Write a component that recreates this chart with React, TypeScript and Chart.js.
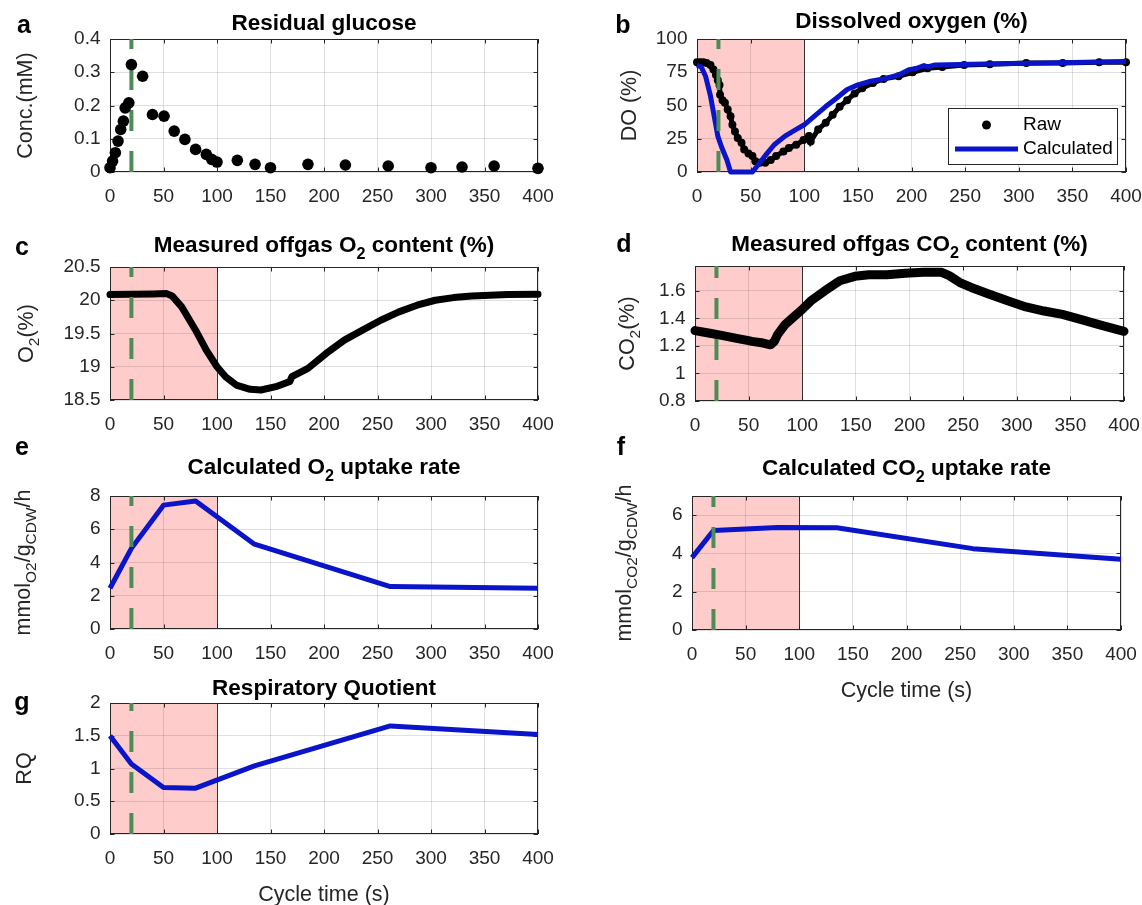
import React, { useEffect, useRef } from "react";
import { Chart, registerables } from "chart.js";

Chart.register(...registerables);

const W = 1142;
const H = 905;
const FONT = "'Liberation Sans', Arial, Helvetica, sans-serif";
const AX = "#262626";
const GRID = "rgba(38,38,38,0.14)";
const PINK = "#FFCCCC";
const GREEN = "#4E8C57";
const BLUE = "#0A14C8";
const Y_AXIS_W = 100;
const X_AXIS_H = 40;

// shared x axis (cycle time, s)
const cycleMin = 0;
const cycleMax = 400;
const cycleStep = 50;
const feedEndTime = 20;
const shadeEndTime = 100;

// (a) residual glucose
const glucoseTime = [0, 2.4, 5, 7.5, 10, 12.5, 14.2, 17.6, 20, 30.5, 39.7, 50.5, 60, 70, 80, 90, 95, 100, 119, 135.6, 150, 185, 220, 260, 300, 329, 359, 400];
const glucoseConc = [0.013, 0.033, 0.058, 0.093, 0.128, 0.153, 0.193, 0.208, 0.323, 0.288, 0.173, 0.168, 0.123, 0.098, 0.068, 0.053, 0.038, 0.03, 0.035, 0.023, 0.013, 0.023, 0.021, 0.018, 0.013, 0.015, 0.018, 0.011];

// (b) dissolved oxygen
const doRawTime = [0, 3, 6, 9, 12.6, 15.3, 17.7, 19.4, 21, 21.5, 23.8, 26, 28.6, 31.3, 33, 35.4, 38, 41.5, 44, 48, 51.7, 54.4, 58.5, 63.6, 68.7, 73.8, 80.6, 85.7, 92.5, 99.3, 104.4, 106, 113, 120, 126.5, 133, 140, 147, 154, 164, 174, 188, 201, 215, 228.6, 249, 273, 307, 341, 375, 400];
const doRawValue = [82.5, 82.5, 82.5, 82, 80.5, 77, 73, 69, 65.5, 58, 54, 52, 47, 42, 35.5, 30.5, 25.5, 22, 17, 14, 12, 8, 7, 7, 9, 12, 15.5, 18, 20.5, 24, 27, 23, 32, 37, 43, 49, 54, 59, 63, 67, 70, 72, 75, 78, 79, 80.5, 81, 82, 82, 82.5, 82.5];
const doCalcTime = [0, 4, 8, 12.6, 16, 19.4, 22.8, 27.9, 31.3, 51.7, 58.5, 65.3, 72, 82, 92.5, 100, 109.5, 119.7, 130, 140, 150, 160.5, 174, 188, 198, 205, 211.6, 215, 222, 256, 324, 400];
const doCalcValue = [80.5, 79, 72, 57, 42, 27, 19, 9, 0, 0, 7, 14, 20.5, 27, 32, 35.5, 42, 49, 55.5, 62, 65.5, 68, 70, 73, 77, 78, 80, 79, 80.5, 81, 82, 83];

// (c) offgas O2
const o2Time = [0, 20, 40, 53, 58, 67, 80, 90, 100, 108, 118, 131, 141, 155, 165, 168, 170, 185, 202, 219, 236, 253, 270, 287, 304, 321, 338, 355, 372, 400];
const o2Value = [20.085, 20.09, 20.095, 20.1, 20.065, 19.9, 19.55, 19.25, 19.0, 18.85, 18.725, 18.66, 18.65, 18.7, 18.76, 18.775, 18.85, 18.975, 19.2, 19.4, 19.55, 19.7, 19.825, 19.925, 20.0, 20.04, 20.065, 20.075, 20.085, 20.09];

// (d) offgas CO2
const co2Time = [0, 12.6, 26, 40, 50, 53, 63.6, 70.4, 74, 77, 84, 91, 100, 108, 121, 135, 149, 162, 179, 196, 213, 230, 237, 247, 257.5, 274.5, 291.5, 308.5, 325.5, 342.5, 359.5, 376.6, 400];
const co2Value = [1.311, 1.294, 1.275, 1.253, 1.238, 1.233, 1.221, 1.208, 1.233, 1.282, 1.355, 1.404, 1.465, 1.526, 1.6, 1.673, 1.705, 1.717, 1.717, 1.727, 1.734, 1.734, 1.71, 1.66, 1.624, 1.575, 1.527, 1.483, 1.453, 1.429, 1.392, 1.355, 1.306];

// (e)(f)(g) calculated rates
const rateTime = [0, 20, 50, 80, 135, 262, 400];
const ourValue = [2.45, 4.85, 7.45, 7.7, 5.1, 2.55, 2.45];
const cerValue = [3.78, 5.2, 5.28, 5.35, 5.34, 4.25, 3.7];
const rqValue = [1.5, 1.07, 0.71, 0.7, 1.04, 1.65, 1.52];

// axis limits [min, max, step]
const glucoseLim = [0, 0.4, 0.1];
const doLim = [0, 100, 25];
const o2Lim = [18.5, 20.5, 0.5];
const co2Lim = [0.8, 1.78, 0.2];
const ourLim = [0, 8, 2];
const cerLim = [0, 7, 2];
const rqLim = [0, 2, 0.5];

type Seg = { t: string; sub?: boolean };
type Box = { l: number; t: number; r: number; b: number };
type Spec = {
  key: string;
  box: Box;
  lim: number[];
  datasets: any[];
  title: Seg[];
  titleY: number;
  letter: string;
  letterX: number;
  letterY: number;
  ylabel: Seg[];
  ylabelX: number;
  xlabel?: string;
  xlabelY?: number;
  shade: boolean;
  legend?: boolean;
};

const pts = (xs: number[], ys: number[]) => xs.map((x, i) => ({ x, y: ys[i] }));

const feedLine = (lim: number[]) => ({
  label: "feed",
  data: [
    { x: feedEndTime, y: lim[0] },
    { x: feedEndTime, y: lim[1] },
  ],
  showLine: true,
  borderColor: GREEN,
  borderWidth: 4,
  borderDash: [21, 20],
  pointRadius: 0,
  clip: false,
});

const blueLine = (label: string, xs: number[], ys: number[]) => ({
  label,
  data: pts(xs, ys),
  showLine: true,
  borderColor: BLUE,
  borderWidth: 5,
  borderJoinStyle: "round",
  pointRadius: 0,
  clip: false,
});

const blackBand = (label: string, xs: number[], ys: number[], w: number) => ({
  label,
  data: pts(xs, ys),
  showLine: true,
  borderColor: "#000",
  borderWidth: w,
  borderJoinStyle: "round",
  borderCapStyle: "round",
  pointRadius: 0,
  clip: false,
});

const S = (t: string): Seg => ({ t });
const SUB = (t: string): Seg => ({ t, sub: true });

const LEFT_L = 110;
const LEFT_R = 538;

const specs: Spec[] = [
  {
    key: "a",
    box: { l: LEFT_L, t: 39, r: LEFT_R, b: 172 },
    lim: glucoseLim,
    datasets: [
      {
        label: "glucose",
        data: pts(glucoseTime, glucoseConc),
        pointRadius: 5.8,
        pointBackgroundColor: "#000",
        pointBorderWidth: 0,
        clip: false,
      },
      feedLine(glucoseLim),
    ],
    title: [S("Residual glucose")],
    titleY: 24,
    letter: "a",
    letterX: 24,
    letterY: 26,
    ylabel: [S("Conc.(mM)")],
    ylabelX: 26,
    shade: false,
  },
  {
    key: "b",
    box: { l: 697, t: 39, r: 1126, b: 172 },
    lim: doLim,
    datasets: [
      feedLine(doLim),
      blueLine("Calculated", doCalcTime, doCalcValue),
      {
        label: "Raw",
        data: pts(doRawTime, doRawValue),
        showLine: true,
        borderColor: "#000",
        borderWidth: 5,
        pointRadius: 4,
        pointBackgroundColor: "#000",
        pointBorderWidth: 0,
        clip: false,
      },
    ],
    title: [S("Dissolved oxygen (%)")],
    titleY: 22,
    letter: "b",
    letterX: 623,
    letterY: 26,
    ylabel: [S("DO (%)")],
    ylabelX: 630,
    shade: true,
    legend: true,
  },
  {
    key: "c",
    box: { l: LEFT_L, t: 267, r: LEFT_R, b: 400 },
    lim: o2Lim,
    datasets: [feedLine(o2Lim), blackBand("O2", o2Time, o2Value, 7)],
    title: [S("Measured offgas O"), SUB("2"), S(" content (%)")],
    titleY: 246,
    letter: "c",
    letterX: 22,
    letterY: 248,
    ylabel: [S("O"), SUB("2"), S("(%)")],
    ylabelX: 27,
    shade: true,
  },
  {
    key: "d",
    box: { l: 695, t: 266, r: 1124, b: 401 },
    lim: co2Lim,
    datasets: [feedLine(co2Lim), blackBand("CO2", co2Time, co2Value, 9)],
    title: [S("Measured offgas CO"), SUB("2"), S(" content (%)")],
    titleY: 245,
    letter: "d",
    letterX: 624,
    letterY: 245,
    ylabel: [S("CO"), SUB("2"), S("(%)")],
    ylabelX: 628,
    shade: true,
  },
  {
    key: "e",
    box: { l: LEFT_L, t: 496, r: LEFT_R, b: 629 },
    lim: ourLim,
    datasets: [feedLine(ourLim), blueLine("OUR", rateTime, ourValue)],
    title: [S("Calculated O"), SUB("2"), S(" uptake rate")],
    titleY: 468,
    letter: "e",
    letterX: 22,
    letterY: 448,
    ylabel: [S("mmol"), SUB("O2"), S("/g"), SUB("CDW"), S("/h")],
    ylabelX: 24,
    shade: true,
  },
  {
    key: "f",
    box: { l: 692, t: 496, r: 1121, b: 630 },
    lim: cerLim,
    datasets: [feedLine(cerLim), blueLine("CER", rateTime, cerValue)],
    title: [S("Calculated CO"), SUB("2"), S(" uptake rate")],
    titleY: 469,
    letter: "f",
    letterX: 621,
    letterY: 448,
    ylabel: [S("mmol"), SUB("CO2"), S("/g"), SUB("CDW"), S("/h")],
    ylabelX: 625,
    xlabel: "Cycle time (s)",
    xlabelY: 691,
    shade: true,
  },
  {
    key: "g",
    box: { l: LEFT_L, t: 703, r: LEFT_R, b: 834 },
    lim: rqLim,
    datasets: [feedLine(rqLim), blueLine("RQ", rateTime, rqValue)],
    title: [S("Respiratory Quotient")],
    titleY: 689,
    letter: "g",
    letterX: 22,
    letterY: 703,
    ylabel: [S("RQ")],
    ylabelX: 25,
    xlabel: "Cycle time (s)",
    xlabelY: 895,
    shade: true,
  },
];

const TICK_SIZE = 19;
const TITLE_SIZE = 22.5;
const LABEL_SIZE = 21.5;
const LETTER_SIZE = 25;

const fmtTick = (v: any) => String(Number(Number(v).toFixed(3)));

function drawRich(
  ctx: CanvasRenderingContext2D,
  segs: Seg[],
  x: number,
  y: number,
  size: number,
  bold: boolean,
  align: "center" | "left" = "center"
) {
  const weight = bold ? "bold " : "";
  const subSize = size * 0.72;
  const fontFor = (s: Seg) => `${weight}${s.sub ? subSize : size}px ${FONT}`;
  const widths = segs.map((s) => {
    ctx.font = fontFor(s);
    return ctx.measureText(s.t).width;
  });
  const total = widths.reduce((a, b) => a + b, 0);
  let cx = align === "center" ? x - total / 2 : x;
  ctx.textAlign = "left";
  ctx.textBaseline = "middle";
  segs.forEach((s, i) => {
    ctx.font = fontFor(s);
    ctx.fillText(s.t, cx, s.sub ? y + size * 0.36 : y);
    cx += widths[i];
  });
}

function makePlugin(spec: Spec) {
  return {
    id: "panel_" + spec.key,
    beforeDraw(chart: any) {
      if (!spec.shade) return;
      const { ctx, chartArea: ca, scales } = chart;
      const x0 = scales.x.getPixelForValue(cycleMin);
      const x1 = scales.x.getPixelForValue(shadeEndTime);
      ctx.save();
      ctx.fillStyle = PINK;
      ctx.fillRect(x0, ca.top, x1 - x0, ca.bottom - ca.top);
      ctx.restore();
    },
    beforeDatasetsDraw(chart: any) {
      const { ctx, chartArea: ca, scales } = chart;
      ctx.save();
      ctx.lineWidth = 1;
      ctx.strokeStyle = AX;
      if (spec.shade) {
        const x1 = Math.round(scales.x.getPixelForValue(shadeEndTime)) + 0.5;
        ctx.strokeStyle = "#333";
        ctx.beginPath();
        ctx.moveTo(x1, ca.top);
        ctx.lineTo(x1, ca.bottom);
        ctx.stroke();
        ctx.strokeStyle = AX;
      }
      const tl = 4.5;
      ctx.beginPath();
      scales.x.ticks.forEach((t: any) => {
        const px = Math.round(scales.x.getPixelForValue(t.value)) + 0.5;
        ctx.moveTo(px, ca.bottom);
        ctx.lineTo(px, ca.bottom - tl);
        ctx.moveTo(px, ca.top);
        ctx.lineTo(px, ca.top + tl);
      });
      scales.y.ticks.forEach((t: any) => {
        const py = Math.round(scales.y.getPixelForValue(t.value)) + 0.5;
        ctx.moveTo(ca.left, py);
        ctx.lineTo(ca.left + tl, py);
        ctx.moveTo(ca.right, py);
        ctx.lineTo(ca.right - tl, py);
      });
      ctx.stroke();
      ctx.strokeRect(ca.left + 0.5, ca.top + 0.5, ca.right - ca.left - 1, ca.bottom - ca.top - 1);
      ctx.restore();
    },
    afterDraw(chart: any) {
      const { ctx, chartArea: ca } = chart;
      ctx.save();
      ctx.fillStyle = "#000";
      const cx = (ca.left + ca.right) / 2;
      drawRich(ctx, spec.title, cx, spec.titleY, TITLE_SIZE, true);
      drawRich(ctx, [S(spec.letter)], spec.letterX, spec.letterY, LETTER_SIZE, true);
      ctx.fillStyle = AX;
      ctx.save();
      ctx.translate(spec.ylabelX, (ca.top + ca.bottom) / 2);
      ctx.rotate(-Math.PI / 2);
      drawRich(ctx, spec.ylabel, 0, 0, LABEL_SIZE, false);
      ctx.restore();
      if (spec.xlabel && spec.xlabelY) {
        drawRich(ctx, [S(spec.xlabel)], cx, spec.xlabelY, LABEL_SIZE, false);
      }
      if (spec.legend) {
        const ds = chart.data.datasets;
        const rawLabel = ds.find((d: any) => d.label === "Raw")?.label ?? "";
        const calcLabel = ds.find((d: any) => d.label === "Calculated")?.label ?? "";
        const bw = 170;
        const bh = 57;
        const bx = ca.right - 8 - bw;
        const by = ca.bottom - 7 - bh;
        ctx.fillStyle = "#fff";
        ctx.fillRect(bx, by, bw, bh);
        ctx.strokeStyle = AX;
        ctx.lineWidth = 1;
        ctx.strokeRect(bx + 0.5, by + 0.5, bw - 1, bh - 1);
        const r1 = by + 17;
        const r2 = by + 41;
        ctx.fillStyle = "#000";
        ctx.beginPath();
        ctx.arc(bx + 38.5, r1, 4.5, 0, Math.PI * 2);
        ctx.fill();
        ctx.strokeStyle = BLUE;
        ctx.lineWidth = 5;
        ctx.beginPath();
        ctx.moveTo(bx + 7, r2);
        ctx.lineTo(bx + 70, r2);
        ctx.stroke();
        ctx.fillStyle = "#000";
        drawRich(ctx, [S(rawLabel)], bx + 75, r1, TICK_SIZE, false, "left");
        drawRich(ctx, [S(calcLabel)], bx + 75, r2, TICK_SIZE, false, "left");
      }
      ctx.restore();
    },
  };
}

function buildConfig(spec: Spec): any {
  const [yMin, yMax, yStep] = spec.lim;
  const tickFont = { family: FONT, size: TICK_SIZE };
  return {
    type: "scatter",
    data: { datasets: spec.datasets },
    options: {
      animation: false,
      responsive: false,
      maintainAspectRatio: false,
      events: [],
      layout: {
        padding: {
          left: spec.box.l - Y_AXIS_W,
          top: spec.box.t,
          right: W - spec.box.r,
          bottom: H - spec.box.b - X_AXIS_H,
        },
      },
      plugins: { legend: { display: false }, tooltip: { enabled: false }, title: { display: false } },
      scales: {
        x: {
          type: "linear",
          min: cycleMin,
          max: cycleMax,
          afterFit: (s: any) => {
            s.height = X_AXIS_H;
            s.paddingLeft = 0;
            s.paddingRight = 0;
          },
          ticks: {
            stepSize: cycleStep,
            autoSkip: false,
            maxRotation: 0,
            minRotation: 0,
            includeBounds: false,
            padding: 13,
            color: AX,
            font: tickFont,
            callback: fmtTick,
          },
          grid: { color: GRID, drawTicks: false, lineWidth: 1 },
          border: { display: false },
        },
        y: {
          type: "linear",
          min: yMin,
          max: yMax,
          afterFit: (s: any) => {
            s.width = Y_AXIS_W;
            s.paddingTop = 0;
            s.paddingBottom = 0;
          },
          ticks: {
            stepSize: yStep,
            autoSkip: false,
            includeBounds: false,
            padding: 9.5,
            color: AX,
            font: tickFont,
            callback: fmtTick,
          },
          grid: { color: GRID, drawTicks: false, lineWidth: 1 },
          border: { display: false },
        },
      },
    },
    plugins: [makePlugin(spec)],
  };
}

function Panel({ spec }: { spec: Spec }) {
  const ref = useRef<HTMLCanvasElement>(null);
  useEffect(() => {
    const canvas = ref.current;
    if (!canvas) return;
    const chart = new Chart(canvas, buildConfig(spec));
    return () => chart.destroy();
  }, [spec]);
  return (
    <canvas
      ref={ref}
      width={W}
      height={H}
      style={{ position: "absolute", left: 0, top: 0, width: W, height: H }}
    />
  );
}

export default function App() {
  return (
    <div style={{ position: "absolute", left: 0, top: 0, width: W, height: H, background: "#fff", overflow: "hidden" }}>
      {specs.map((s) => (
        <Panel key={s.key} spec={s} />
      ))}
    </div>
  );
}
